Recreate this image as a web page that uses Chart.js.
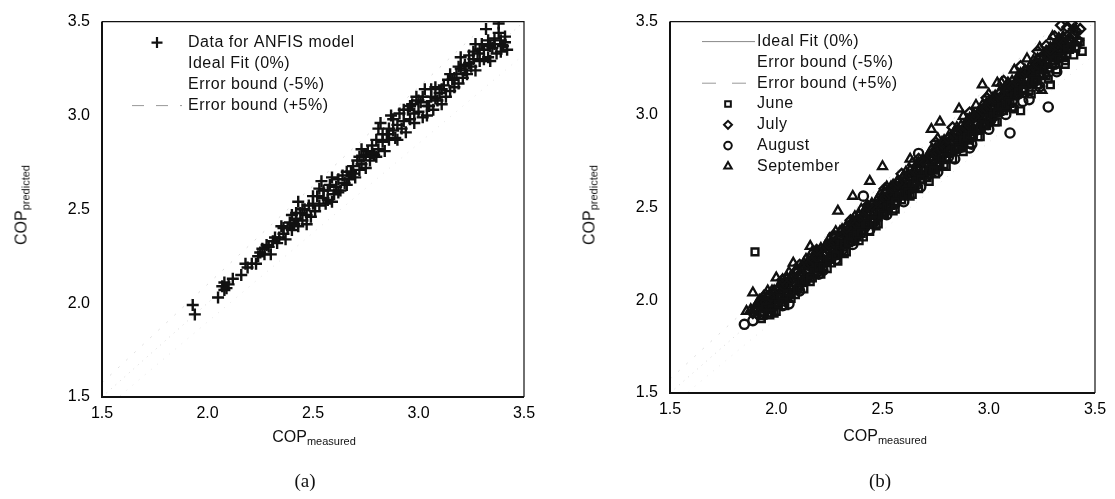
<!DOCTYPE html>
<html>
<head>
<meta charset="utf-8">
<title>COP predicted vs measured</title>
<script src="https://cdn.jsdelivr.net/npm/chart.js@4.4.1/dist/chart.umd.min.js"></script>
<style>
  html, body { margin: 0; padding: 0; background: #fff; }
  body { width: 1115px; height: 499px; position: relative; overflow: hidden;
         font-family: "Liberation Sans", Arial, sans-serif; color: #111; }
  canvas { position: absolute; top: 0; }
  #chartA { left: 0; }
  #chartB { left: 557px; }
  .xtitle { position: absolute; font-size: 16px; transform: translateX(-50%); white-space: nowrap; }
  .ytitle { position: absolute; font-size: 16px; white-space: nowrap; transform: translate(-50%, -50%) rotate(-90deg); }
  .xtitle sub, .ytitle sub { font-size: 11px; vertical-align: -3px; }
  .cap { position: absolute; font-family: "Liberation Serif", "DejaVu Serif", serif; font-size: 19px; transform: translateX(-50%); }
</style>
</head>
<body>
<canvas id="chartA" width="557" height="499"></canvas>
<canvas id="chartB" width="558" height="499"></canvas>

<div class="xtitle" style="left:314px; top:428px;">COP<sub>measured</sub></div>
<div class="xtitle" style="left:885px; top:427px;">COP<sub>measured</sub></div>
<div class="ytitle" style="left:22px; top:205px;">COP<sub>predicted</sub></div>
<div class="ytitle" style="left:590px; top:205px;">COP<sub>predicted</sub></div>
<div class="cap" style="left:305px; top:470px;">(a)</div>
<div class="cap" style="left:880px; top:470px;">(b)</div>

<script>
// axis ticks (both panels)
const tickValues = [1.5, 2.0, 2.5, 3.0, 3.5];

// reference lines: ideal fit and +/-5 % error bounds
const idealLine = [[1.5, 1.5], [3.5, 3.5]];
const lowerBound = [[1.5, 1.425], [3.5, 3.325]];
const upperBound = [[1.5, 1.575], [3.5, 3.675]];

// (a) ANFIS model data
const anfisData = [
  [1.93,1.99],[1.94,1.94],[2.05,2.03],[2.07,2.09],[2.08,2.07],[2.08,2.11],[2.09,2.08],[2.10,2.10],
  [2.12,2.13],[2.16,2.15],[2.18,2.21],[2.19,2.19],[2.21,2.21],[2.23,2.21],[2.24,2.25],[2.25,2.27],
  [2.27,2.26],[2.28,2.31],[2.29,2.30],[2.30,2.26],[2.31,2.33],[2.33,2.32],[2.34,2.35],[2.35,2.41],
  [2.36,2.37],[2.37,2.34],[2.38,2.40],[2.39,2.43],[2.40,2.39],[2.40,2.47],[2.41,2.42],[2.42,2.45],
  [2.43,2.54],[2.43,2.41],[2.44,2.48],[2.45,2.44],[2.46,2.50],[2.47,2.42],[2.47,2.47],[2.48,2.52],
  [2.49,2.46],[2.50,2.53],[2.51,2.49],[2.52,2.57],[2.53,2.61],[2.53,2.52],[2.54,2.65],[2.55,2.56],
  [2.56,2.53],[2.57,2.60],[2.58,2.63],[2.59,2.67],[2.59,2.54],[2.60,2.58],[2.61,2.62],[2.62,2.66],
  [2.63,2.60],[2.64,2.68],[2.65,2.64],[2.66,2.70],[2.67,2.66],[2.68,2.70],[2.69,2.73],[2.70,2.67],
  [2.71,2.76],[2.72,2.71],[2.73,2.82],[2.73,2.74],[2.74,2.78],[2.75,2.72],[2.76,2.81],[2.77,2.76],
  [2.78,2.84],[2.79,2.79],[2.80,2.87],[2.81,2.93],[2.81,2.82],[2.82,2.96],[2.83,2.86],[2.84,2.81],
  [2.85,2.90],[2.86,2.87],[2.87,3.00],[2.88,2.92],[2.89,2.88],[2.90,2.95],[2.91,3.01],[2.92,2.93],
  [2.93,2.97],[2.94,2.91],[2.95,3.03],[2.96,2.98],[2.97,3.06],[2.98,2.96],[2.99,3.10],[3.00,3.02],
  [3.01,3.07],[3.02,2.99],[3.03,3.14],[3.04,3.05],[3.05,3.05],[3.06,3.10],[3.07,3.03],[3.08,3.15],
  [3.09,3.08],[3.10,3.12],[3.11,3.06],[3.12,3.16],[3.13,3.10],[3.14,3.19],[3.15,3.13],[3.16,3.19],
  [3.17,3.15],[3.18,3.22],[3.19,3.17],[3.20,3.25],[3.20,3.31],[3.21,3.20],[3.22,3.27],[3.23,3.22],
  [3.24,3.32],[3.25,3.26],[3.26,3.30],[3.27,3.38],[3.27,3.24],[3.28,3.33],[3.29,3.29],[3.30,3.38],
  [3.31,3.35],[3.32,3.46],[3.33,3.40],[3.33,3.31],[3.34,3.29],[3.35,3.36],[3.36,3.41],[3.37,3.33],
  [3.38,3.49],[3.38,3.44],[3.39,3.34],[3.39,3.40],[3.40,3.37],[3.41,3.42],[3.42,3.35],
  [2.26,2.29],[2.32,2.35],[2.36,2.40],[2.42,2.48],[2.45,2.50],[2.50,2.57],[2.55,2.60],[2.57,2.55],
  [2.62,2.59],[2.66,2.63],[2.69,2.69],[2.72,2.78],[2.75,2.79],[2.78,2.80],[2.80,2.78],[2.83,2.90],
  [2.86,2.93],[2.88,2.98],[2.90,2.87],[2.93,3.03],[2.96,3.05],[2.98,3.01],[3.00,3.08],[3.02,3.10],
  [3.04,3.00],[3.06,3.14],[3.08,3.09],[3.11,3.14],[3.15,3.22],[3.17,3.20],[3.19,3.26],[3.22,3.24],
  [3.24,3.28],[3.26,3.34],[3.29,3.35],[3.31,3.30],[3.34,3.37],[3.36,3.38],[3.41,3.39]
];

// (b) monthly data
const juneData = [
  [1.90,2.26],[1.91,1.94],[1.93,1.90],[1.95,1.96],[1.97,1.92],[1.99,1.98],[2.00,1.94],[2.02,2.01],
  [2.04,1.97],[2.06,2.04],[2.09,2.03],[2.11,2.08],[2.13,2.06],[2.15,2.13],[2.17,2.12],[2.19,2.17],
  [2.21,2.14],[2.23,2.21],[2.26,2.20],[2.27,2.25],[2.29,2.21],[2.31,2.30],[2.33,2.26],[2.35,2.33],
  [2.37,2.32],[2.39,2.37],[2.41,2.34],[2.44,2.37],[2.45,2.43],[2.47,2.40],[2.49,2.47],[2.51,2.46],
  [2.53,2.51],[2.55,2.48],[2.57,2.55],[2.59,2.54],[2.61,2.59],[2.63,2.56],[2.65,2.63],[2.67,2.60],
  [2.69,2.67],[2.71,2.66],[2.73,2.71],[2.75,2.68],[2.77,2.74],[2.79,2.73],[2.81,2.79],[2.83,2.76],
  [2.85,2.83],[2.87,2.82],[2.89,2.87],[2.91,2.84],[2.93,2.91],[2.95,2.88],[2.97,2.95],[2.99,2.94],
  [3.01,2.99],[3.03,2.96],[3.05,3.03],[3.07,3.02],[3.09,3.07],[3.11,3.04],[3.13,3.11],[3.15,3.02],
  [3.17,3.14],[3.19,3.13],[3.21,3.19],[3.23,3.16],[3.25,3.22],[3.27,3.21],[3.29,3.16],[3.30,3.27],
  [3.32,3.24],[3.34,3.31],[3.36,3.29],[3.38,3.35],[3.40,3.32],[3.42,3.39],[3.44,3.34],
  [1.94,1.92],[1.98,1.95],[2.01,1.98],[2.05,2.03],[2.08,2.06],[2.12,2.10],[2.14,2.11],[2.18,2.15],
  [2.20,2.18],[2.24,2.22],[2.26,2.23],[2.30,2.27],[2.32,2.30],[2.36,2.34],[2.38,2.35],[2.42,2.40],
  [2.43,2.41],[2.46,2.44],[2.48,2.45],[2.52,2.50],[2.54,2.51],[2.58,2.56],[2.60,2.57],[2.64,2.62],
  [2.66,2.64],[2.70,2.68],[2.72,2.69],[2.76,2.73],[2.78,2.76],[2.82,2.80],[2.84,2.81],[2.88,2.86],
  [2.90,2.88],[2.94,2.92],[2.96,2.93],[3.00,2.98],[3.02,2.99],[3.06,3.04],[3.08,3.05],[3.12,3.10],
  [3.14,3.12],[3.18,3.16],[3.20,3.17],[3.24,3.21],[3.26,3.24],[3.31,3.29],[3.33,3.30],[3.37,3.35],
  [3.39,3.36],[3.41,3.36],
  [1.96,1.93],[2.03,1.99],[2.07,2.04],[2.10,2.06],[2.16,2.12],[2.22,2.18],[2.25,2.22],[2.28,2.24],
  [2.34,2.31],[2.40,2.36],[2.46,2.43],[2.50,2.46],[2.56,2.53],[2.62,2.58],[2.68,2.65],[2.74,2.70],
  [2.80,2.77],[2.86,2.82],[2.92,2.89],[2.98,2.94],[3.04,3.01],[3.10,3.06],[3.16,3.13],[3.22,3.18],
  [3.28,3.25],[3.35,3.31],[3.43,3.39],
  [1.99,1.93],[2.07,2.01],[2.16,2.10],[2.24,2.17],[2.32,2.25],[2.39,2.32],[2.48,2.41],[2.56,2.49],
  [2.64,2.57],[2.72,2.64],[2.80,2.72],[2.88,2.80],[2.96,2.88],[3.04,2.96],[3.12,3.03],[3.20,3.11],
  [3.28,3.19],[3.36,3.27]
];
const julyData = [
  [1.89,1.93],[1.92,1.98],[1.94,1.96],[1.96,2.02],[1.98,1.99],[2.00,2.05],[2.02,2.03],[2.04,2.10],
  [2.06,2.07],[2.08,2.12],[2.10,2.12],[2.12,2.18],[2.14,2.15],[2.16,2.20],[2.18,2.20],[2.20,2.26],
  [2.22,2.22],[2.24,2.28],[2.26,2.28],[2.28,2.34],[2.30,2.30],[2.32,2.36],[2.34,2.36],[2.36,2.42],
  [2.38,2.38],[2.40,2.44],[2.42,2.44],[2.44,2.50],[2.46,2.46],[2.48,2.52],[2.50,2.52],[2.52,2.58],
  [2.54,2.54],[2.56,2.60],[2.58,2.60],[2.60,2.66],[2.62,2.62],[2.64,2.68],[2.66,2.68],[2.68,2.74],
  [2.70,2.70],[2.72,2.76],[2.74,2.76],[2.76,2.82],[2.78,2.78],[2.80,2.84],[2.82,2.84],[2.84,2.90],
  [2.86,2.86],[2.88,2.92],[2.90,2.92],[2.92,2.98],[2.94,2.94],[2.96,3.00],[2.98,3.00],[3.00,3.06],
  [3.02,3.02],[3.04,3.08],[3.06,3.08],[3.08,3.14],[3.10,3.10],[3.12,3.16],[3.14,3.16],[3.16,3.22],
  [3.18,3.18],[3.20,3.24],[3.22,3.24],[3.24,3.30],[3.26,3.26],[3.27,3.37],[3.28,3.32],[3.30,3.34],
  [3.32,3.32],[3.34,3.48],[3.34,3.38],[3.36,3.36],[3.38,3.41],[3.39,3.49],[3.40,3.43],[3.42,3.40],
  [3.43,3.46],
  [1.91,1.95],[1.95,1.99],[1.99,2.03],[2.01,2.06],[2.05,2.08],[2.07,2.11],[2.11,2.14],[2.13,2.18],
  [2.17,2.21],[2.19,2.23],[2.23,2.26],[2.25,2.30],[2.29,2.33],[2.31,2.34],[2.35,2.39],[2.37,2.42],
  [2.41,2.44],[2.43,2.48],[2.47,2.51],[2.49,2.53],[2.53,2.56],[2.55,2.60],[2.59,2.63],[2.61,2.64],
  [2.65,2.69],[2.67,2.72],[2.71,2.74],[2.73,2.78],[2.77,2.81],[2.79,2.83],[2.83,2.86],[2.85,2.90],
  [2.89,2.93],[2.91,2.94],[2.95,2.99],[2.97,3.02],[3.01,3.04],[3.03,3.08],[3.07,3.11],[3.09,3.13],
  [3.13,3.16],[3.15,3.20],[3.19,3.23],[3.21,3.24],[3.25,3.29],[3.27,3.32],[3.29,3.33],[3.31,3.37],
  [3.33,3.36],[3.35,3.41],[3.37,3.42],[3.41,3.45],
  [1.93,1.99],[1.97,2.02],[2.03,2.08],[2.09,2.15],[2.15,2.19],[2.21,2.27],[2.27,2.31],[2.33,2.39],
  [2.39,2.43],[2.45,2.51],[2.51,2.55],[2.57,2.63],[2.63,2.67],[2.69,2.75],[2.75,2.79],[2.81,2.87],
  [2.87,2.91],[2.93,2.99],[2.99,3.03],[3.05,3.11],[3.11,3.15],[3.17,3.23],[3.23,3.27],[3.29,3.35],
  [3.35,3.38],[3.40,3.46],
  [1.95,2.03],[2.03,2.11],[2.11,2.19],[2.19,2.27],[2.27,2.35],[2.35,2.43],[2.43,2.51],[2.51,2.60],
  [2.59,2.68],[2.67,2.76],[2.75,2.85],[2.83,2.93],[2.91,3.01],[2.99,3.09],[3.07,3.18],[3.15,3.26],
  [3.23,3.34],[3.31,3.42],[3.37,3.47]
];
const augustData = [
  [1.85,1.87],[1.89,1.89],[1.90,1.95],[1.93,1.94],[1.95,1.99],[1.98,1.96],[2.01,2.03],[2.03,2.01],
  [2.06,1.98],[2.07,2.08],[2.10,2.06],[2.12,2.14],[2.14,2.12],[2.17,2.18],[2.19,2.15],[2.22,2.16],
  [2.23,2.25],[2.26,2.23],[2.28,2.30],[2.31,2.27],[2.33,2.35],[2.36,2.32],[2.38,2.40],[2.41,2.56],
  [2.41,2.38],[2.43,2.45],[2.46,2.42],[2.48,2.50],[2.51,2.48],[2.53,2.55],[2.56,2.52],[2.58,2.60],
  [2.61,2.57],[2.63,2.65],[2.66,2.62],[2.67,2.79],[2.68,2.70],[2.71,2.67],[2.73,2.75],[2.76,2.72],
  [2.78,2.80],[2.81,2.77],[2.83,2.85],[2.86,2.82],[2.88,2.90],[2.91,2.82],[2.91,2.87],[2.93,2.95],
  [2.96,2.92],[2.98,3.00],[3.01,2.97],[3.03,3.05],[3.06,3.02],[3.08,3.10],[3.10,2.90],[3.11,3.07],
  [3.13,3.15],[3.16,3.12],[3.18,3.20],[3.19,3.08],[3.21,3.17],[3.23,3.25],[3.26,3.22],[3.28,3.04],
  [3.28,3.30],[3.31,3.27],[3.33,3.35],[3.36,3.32],[3.38,3.40],[3.41,3.37],
  [1.92,1.92],[1.96,1.97],[2.00,2.01],[2.04,2.04],[2.08,2.10],[2.11,2.11],[2.15,2.17],[2.18,2.19],
  [2.21,2.22],[2.25,2.27],[2.27,2.27],[2.30,2.32],[2.34,2.34],[2.37,2.39],[2.40,2.41],[2.44,2.46],
  [2.47,2.47],[2.50,2.52],[2.54,2.55],[2.57,2.59],[2.60,2.61],[2.64,2.66],[2.67,2.67],[2.70,2.72],
  [2.74,2.75],[2.77,2.79],[2.80,2.81],[2.84,2.86],[2.87,2.87],[2.90,2.92],[2.94,2.95],[2.97,2.99],
  [3.00,3.01],[3.04,3.06],[3.07,3.07],[3.09,3.12],[3.12,3.13],[3.15,3.17],[3.17,3.18],[3.20,3.22],
  [3.22,3.23],[3.25,3.27],[3.27,3.28],[3.30,3.32],[3.32,3.33],[3.35,3.37],[3.37,3.38],[3.40,3.42],
  [1.94,1.92],[1.99,1.98],[2.05,2.02],[2.09,2.09],[2.13,2.10],[2.20,2.20],[2.24,2.21],[2.29,2.29],
  [2.35,2.32],[2.39,2.39],[2.45,2.42],[2.49,2.49],[2.55,2.52],[2.59,2.59],[2.65,2.62],[2.69,2.69],
  [2.75,2.72],[2.79,2.79],[2.85,2.82],[2.89,2.89],[2.95,2.92],[2.99,2.99],[3.05,3.02],[3.09,3.09],
  [3.14,3.11],[3.19,3.19],[3.24,3.21],[3.29,3.29],[3.34,3.31],[3.39,3.39],
  [2.03,1.97],[2.11,2.05],[2.20,2.14],[2.28,2.22],[2.36,2.30],[2.44,2.38],[2.52,2.46],[2.60,2.53],
  [2.68,2.61],[2.76,2.69],[2.84,2.76],[2.92,2.84],[3.00,2.92],[3.08,3.00],[3.16,3.07],[3.24,3.15],
  [3.32,3.23]
];
const septemberData = [
  [1.86,1.94],[1.89,2.04],[1.91,1.98],[1.94,2.02],[1.97,2.03],[2.00,2.12],[2.02,2.09],[2.05,2.12],
  [2.08,2.20],[2.10,2.16],[2.13,2.20],[2.16,2.29],[2.18,2.25],[2.21,2.28],[2.24,2.30],[2.27,2.34],
  [2.29,2.48],[2.30,2.37],[2.33,2.40],[2.36,2.56],[2.36,2.43],[2.39,2.46],[2.42,2.49],[2.44,2.64],
  [2.45,2.52],[2.48,2.55],[2.50,2.72],[2.51,2.58],[2.54,2.61],[2.57,2.64],[2.60,2.67],[2.63,2.76],
  [2.63,2.70],[2.66,2.73],[2.69,2.76],[2.72,2.79],[2.73,2.92],[2.75,2.82],[2.77,2.96],[2.78,2.85],
  [2.81,2.88],[2.84,2.91],[2.86,3.03],[2.87,2.94],[2.90,2.97],[2.93,3.00],[2.96,3.03],[2.97,3.16],
  [2.99,3.06],[3.02,3.09],[3.04,3.17],[3.05,3.12],[3.08,3.15],[3.11,3.18],[3.14,3.21],[3.17,3.24],
  [3.20,3.27],[3.23,3.30],[3.25,3.13],[3.26,3.33],[3.29,3.36],[3.32,3.39],[3.35,3.42],
  [1.88,1.95],[1.93,1.98],[1.99,2.05],[2.04,2.09],[2.07,2.13],[2.12,2.16],[2.15,2.21],[2.20,2.24],
  [2.23,2.29],[2.26,2.30],[2.32,2.37],[2.35,2.41],[2.38,2.42],[2.41,2.47],[2.47,2.51],[2.50,2.56],
  [2.53,2.57],[2.56,2.62],[2.59,2.63],[2.62,2.68],[2.65,2.69],[2.68,2.74],[2.71,2.75],[2.74,2.80],
  [2.80,2.84],[2.83,2.89],[2.89,2.93],[2.92,2.98],[2.95,2.99],[3.01,3.07],[3.07,3.11],[3.10,3.16],
  [3.13,3.17],[3.16,3.22],[3.19,3.23],[3.22,3.28],[3.28,3.33],[3.31,3.35],[3.34,3.40],
  [1.92,2.00],[1.98,2.05],[2.03,2.11],[2.09,2.16],[2.14,2.22],[2.19,2.26],[2.25,2.33],[2.31,2.38],
  [2.37,2.45],[2.43,2.50],[2.49,2.57],[2.55,2.62],[2.61,2.69],[2.67,2.74],[2.73,2.81],[2.79,2.86],
  [2.85,2.93],[2.91,2.98],[2.97,3.05],[3.03,3.10],[3.09,3.17],[3.15,3.22],[3.21,3.29],[3.27,3.34],
  [3.33,3.41],
  [1.96,2.05],[2.06,2.15],[2.17,2.26],[2.28,2.37],[2.40,2.49],[2.52,2.61],[2.64,2.74],[2.76,2.87],
  [2.88,2.99],[2.94,3.05],[3.00,3.11],[3.06,3.17],[3.12,3.24],[3.18,3.30],[3.24,3.36],[3.30,3.42]
];

const labelsA = ['Data for ANFIS model', 'Ideal Fit (0%)', 'Error bound (-5%)', 'Error bound (+5%)'];
const labelsB = ['Ideal Fit (0%)', 'Error bound (-5%)', 'Error bound (+5%)', 'June', 'July', 'August', 'September'];

const FONT = '"Liberation Sans", Arial, sans-serif';
const INK = '#111';
const toXY = arr => arr.map(([x, y]) => ({ x, y }));

// box round the plot area
const frame = {
  id: 'frame',
  afterDraw(chart) {
    const { ctx, chartArea: a } = chart;
    ctx.save();
    ctx.strokeStyle = INK;
    ctx.lineWidth = 1.2;
    ctx.beginPath();
    ctx.moveTo(a.left, a.top); ctx.lineTo(a.right, a.top); ctx.lineTo(a.right, a.bottom);
    ctx.stroke();
    ctx.lineWidth = 2;
    ctx.beginPath();
    ctx.moveTo(a.left, a.top); ctx.lineTo(a.left, a.bottom); ctx.lineTo(a.right, a.bottom);
    ctx.stroke();
    ctx.restore();
  }
};

// legend drawn inside the plot area, top-left
const panelLegend = {
  id: 'panelLegend',
  afterDraw(chart, args, opts) {
    const { ctx, chartArea: a } = chart;
    ctx.save();
    ctx.font = '16px ' + FONT;
    ctx.letterSpacing = '0.5px';
    ctx.textBaseline = 'middle';
    opts.items.forEach((it, i) => {
      const y = a.top + opts.top + i * opts.gap;
      if (it.line) {
        ctx.strokeStyle = it.line;
        ctx.lineWidth = 1;
        ctx.setLineDash(it.dash || []);
        ctx.beginPath();
        ctx.moveTo(a.left + opts.lineFrom, y);
        ctx.lineTo(a.left + opts.lineTo, y);
        ctx.stroke();
        ctx.setLineDash([]);
      }
      if (it.point) {
        ctx.strokeStyle = INK;
        ctx.fillStyle = 'rgba(0,0,0,0)';
        ctx.lineWidth = it.bw;
        Chart.helpers.drawPoint(ctx, { pointStyle: it.point, radius: it.r, borderWidth: it.bw, rotation: 0 },
          a.left + opts.markX, y);
      }
      ctx.fillStyle = INK;
      ctx.fillText(it.label, a.left + opts.textX, y);
    });
    ctx.restore();
  }
};

function axis(size, isX) {
  return {
    type: 'linear', min: 1.5, max: 3.5,
    grid: { display: false, drawTicks: false },
    border: { display: false },
    afterBuildTicks: s => { s.ticks = tickValues.map(v => ({ value: v })); },
    afterFit: s => { if (isX) s.height = size; else s.width = size; },
    ticks: {
      padding: isX ? 7 : 12,
      color: '#000',
      font: { family: FONT, size: 16 },
      callback: v => v.toFixed(1)
    }
  };
}

function refLines(colors) {
  return [
    { data: toXY(idealLine), showLine: true, pointRadius: 0, borderColor: colors[0], borderWidth: 1, borderDash: [1, 5] },
    { data: toXY(lowerBound), showLine: true, pointRadius: 0, borderColor: colors[1], borderWidth: 1, borderDash: [1, 7] },
    { data: toXY(upperBound), showLine: true, pointRadius: 0, borderColor: colors[2], borderWidth: 1, borderDash: [2, 9] }
  ];
}

function marks(data, style, r, bw) {
  return {
    data: toXY(data), pointStyle: style, pointRadius: r, borderWidth: bw,
    borderColor: INK, backgroundColor: 'rgba(0,0,0,0)'
  };
}

// (a)
new Chart(document.getElementById('chartA'), {
  type: 'scatter',
  data: {
    datasets: [marks(anfisData, 'cross', 6, 2.4)].concat(refLines(['#d8d8d8', '#e6e6e6', '#dddddd']))
  },
  options: {
    responsive: false, animation: false, devicePixelRatio: 1,
    layout: { padding: { top: 13, right: 33, bottom: 72, left: 0 } },
    scales: { x: axis(30, true), y: axis(102, false) },
    plugins: {
      legend: { display: false }, tooltip: { enabled: false },
      panelLegend: {
        top: 21, gap: 21, markX: 55, textX: 86, lineFrom: 30, lineTo: 80,
        items: [
          { label: labelsA[0], point: 'cross', r: 5.5, bw: 2.2 },
          { label: labelsA[1] },
          { label: labelsA[2] },
          { label: labelsA[3], line: '#999', dash: [12, 12] }
        ]
      }
    }
  },
  plugins: [frame, panelLegend]
});

// (b)
new Chart(document.getElementById('chartB'), {
  type: 'scatter',
  data: {
    datasets: [
      marks(juneData, 'rect', 4.8, 2.4),
      marks(julyData, 'rectRot', 5, 2.4),
      marks(augustData, 'circle', 4.6, 2.4),
      marks(septemberData, 'triangle', 5.2, 2.3)
    ].concat(refLines(['#d8d8d8', '#e8e8e8', '#dddddd']))
  },
  options: {
    responsive: false, animation: false, devicePixelRatio: 1,
    layout: { padding: { top: 13, right: 20, bottom: 76, left: 0 } },
    scales: { x: axis(30, true), y: axis(113, false) },
    plugins: {
      legend: { display: false }, tooltip: { enabled: false },
      panelLegend: {
        top: 20, gap: 20.8, markX: 58, textX: 87, lineFrom: 32, lineTo: 85,
        items: [
          { label: labelsB[0], line: '#888' },
          { label: labelsB[1] },
          { label: labelsB[2], line: '#999', dash: [14, 16] },
          { label: labelsB[3], point: 'rect', r: 4, bw: 2 },
          { label: labelsB[4], point: 'rectRot', r: 4, bw: 2 },
          { label: labelsB[5], point: 'circle', r: 3.8, bw: 2 },
          { label: labelsB[6], point: 'triangle', r: 4.3, bw: 2 }
        ]
      }
    }
  },
  plugins: [frame, panelLegend]
});
</script>
</body>
</html>
